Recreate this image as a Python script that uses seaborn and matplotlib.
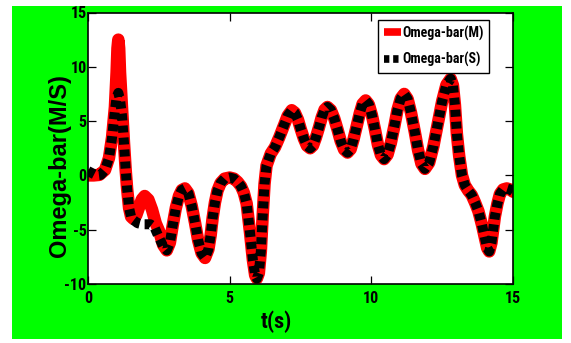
import os
import matplotlib
matplotlib.use("Agg")
import matplotlib.pyplot as plt
from matplotlib import font_manager
from matplotlib.font_manager import FontProperties
from matplotlib.patches import Rectangle
import seaborn as sns
import pandas as pd

# ---- data ----
# head of the M series (differs from S up to ~2.7 s)
t_head_m = [0, 0.2, 0.4, 0.6, 0.74, 0.85, 0.95, 1.01, 1.04, 1.07, 1.10, 1.13, 1.2, 1.27,
            1.33, 1.38, 1.45, 1.52, 1.6, 1.7, 1.8, 1.9, 2.0, 2.13, 2.26, 2.39, 2.52, 2.65]
v_head_m = [0, 0, 0.05, 0.5, 1.6, 3.5, 6.3, 9.5, 11.7, 12.5, 11.7, 9.5, 6.2, 3.0,
            0.5, -1.2, -3.0, -3.8, -4.0, -3.69, -2.95, -2.21, -1.9, -2.23, -3.15, -4.4, -5.2, -6.4]
# head of the S series
t_head_s = [0, 0.15, 0.3, 0.45, 0.6, 0.74, 0.85, 0.95, 1.01, 1.07, 1.13, 1.2, 1.27, 1.33,
            1.38, 1.45, 1.52, 1.6, 1.75, 1.9, 2.05, 2.2, 2.35, 2.5, 2.65]
v_head_s = [0.4, 0.2, 0.0, 0.05, 0.5, 1.6, 3.5, 6.0, 7.2, 7.6, 7.0, 5.5, 3.0, 0.5,
            -1.2, -3.0, -3.8, -4.1, -4.4, -4.5, -4.5, -4.5, -4.8, -5.7, -6.5]
# common part of both series
t_tail = [2.78, 2.89, 2.99, 3.10, 3.21, 3.31, 3.42, 3.54, 3.66, 3.78, 3.89, 4.01, 4.13,
          4.25, 4.33, 4.4, 4.48, 4.57, 4.68, 4.82, 5.0, 5.15, 5.28, 5.4, 5.5, 5.6, 5.72,
          5.82, 5.9, 5.96, 6.03, 6.1, 6.17, 6.23, 6.3, 6.45, 6.6, 6.75, 6.9, 7.05, 7.19,
          7.30, 7.41, 7.51, 7.62, 7.73, 7.84, 7.94, 8.04, 8.15, 8.25, 8.35, 8.45,
          8.57, 8.69, 8.81, 8.92, 9.04, 9.16, 9.27, 9.37, 9.48, 9.59, 9.69, 9.8,
          9.91, 10.02, 10.13, 10.23, 10.34, 10.45, 10.57, 10.69, 10.81, 10.92, 11.04, 11.16,
          11.28, 11.40, 11.53, 11.65, 11.77, 11.89, 12.04, 12.19, 12.345, 12.5, 12.65, 12.8,
          12.88, 12.95, 13.02, 13.1, 13.2, 13.3, 13.42, 13.54, 13.66, 13.78, 13.9, 14.01,
          14.09, 14.16, 14.24, 14.3, 14.36, 14.45, 14.54, 14.65, 14.78, 14.9, 15.0]
v_tail = [-6.9, -6.2, -4.6, -3.0, -1.9, -1.35, -1.2, -1.63, -2.8, -4.4, -6.0, -7.17, -7.6,
          -6.8, -5.5, -3.9, -2.5, -1.4, -0.7, -0.3, -0.2, -0.3, -0.6, -1.0, -1.6, -2.6, -5.3,
          -7.8, -9.2, -9.5, -9.0, -7.0, -3.5, -0.8, 0.9, 2.0, 2.6, 3.5, 4.5, 5.5, 6.0,
          5.77, 5.13, 4.25, 3.38, 2.73, 2.5, 2.75, 3.45, 4.4, 5.35, 6.05, 6.3,
          6.02, 5.25, 4.2, 3.15, 2.38, 2.1, 2.42, 3.3, 4.5, 5.7, 6.58, 6.9,
          6.54, 5.55, 4.2, 2.85, 1.86, 1.5, 1.9, 3.0, 4.5, 6.0, 7.1, 7.5,
          7.04, 5.78, 4.05, 2.33, 1.06, 0.6, 1.16, 2.68, 4.75, 6.83, 8.34, 8.9,
          8.3, 6.5, 3.8, 1.8, 0.0, -0.9, -1.4, -1.8, -2.5, -3.3, -4.5, -5.8,
          -6.7, -7.0, -6.2, -5.0, -3.8, -2.6, -1.7, -1.3, -1.2, -1.3, -1.5]

series_labels = ["Omega-bar(M)", "Omega-bar(S)"]
x_ticks = [0, 5, 10, 15]
y_ticks = [-10, -5, 0, 5, 10, 15]
x_label = "t(s)"
y_label = "Omega-bar(M/S)"

df_m = pd.DataFrame({"t": t_head_m + t_tail, "v": v_head_m + v_tail})
df_s = pd.DataFrame({"t": t_head_s + t_tail, "v": v_head_s + v_tail})


# ---- fonts: look for a narrow / condensed bold sans ----
def find_condensed(bold=True):
    best = None
    for f in font_manager.fontManager.ttflist:
        fn = os.path.basename(f.fname).lower()
        nm = f.name.lower()
        if "italic" in fn or "oblique" in fn or f.style != "normal":
            continue
        cond = ("narrow" in nm or "condensed" in nm or "narrow" in fn or "condensed" in fn
                or str(f.stretch) in ("condensed", "semi-condensed", "extra-condensed"))
        if not cond:
            continue
        w = f.weight if isinstance(f.weight, int) else (700 if "bold" in str(f.weight) else 400)
        isbold = w >= 600 or "bold" in fn
        if isbold != bold:
            continue
        if "semibold" in fn or "extrabold" in fn or "black" in fn or "light" in fn:
            continue
        score = 0
        if "liberation" in nm:
            score = 4
        elif "roboto" in nm:
            score = 3
        elif "dejavu" in nm and "sans" in nm and "mono" not in nm:
            score = 2
        elif "open" in nm or "noto" in nm:
            score = 1
        if best is None or score > best[0]:
            best = (score, f.fname)
    return best[1] if best else None


plt.rcParams["font.family"] = ["Liberation Sans", "DejaVu Sans"]
cond_bold = find_condensed(True)


def fp(size):
    if cond_bold:
        return FontProperties(fname=cond_bold, size=size)
    return FontProperties(family=["Liberation Sans", "DejaVu Sans"], weight="bold", size=size)


W, H = 571, 343
fig = plt.figure(figsize=(W / 100, H / 100), dpi=100, facecolor="white")
fig.patches.append(Rectangle((12 / W, 4 / H), 550 / W, 333 / H, transform=fig.transFigure,
                             facecolor="#00ff00", edgecolor="none", zorder=-10))
ax = fig.add_axes([88 / W, 59 / H, 425 / W, 271.5 / H])
ax.set_facecolor("white")

sns.lineplot(data=df_m, x="t", y="v", ax=ax, color="#ff0000", linewidth=9,
             sort=False, estimator=None, label=series_labels[0])
sns.lineplot(data=df_s, x="t", y="v", ax=ax, color="black", linewidth=7.2,
             linestyle=(0, (0.7, 0.5)), sort=False, estimator=None, label=series_labels[1])
for ln in ax.get_lines():
    ln.set_solid_capstyle("round")
    ln.set_solid_joinstyle("round")

ax.set_xlim(0, 15)
ax.set_ylim(-10, 15)
ax.set_xticks(x_ticks)
ax.set_yticks(y_ticks)
ax.set_xticklabels([str(v) for v in x_ticks])
ax.set_yticklabels([str(v) for v in y_ticks])
for lbl in ax.get_xticklabels() + ax.get_yticklabels():
    lbl.set_fontproperties(fp(11.5))
ax.tick_params(axis="both", direction="in", top=True, right=True, length=5.5, width=0.9,
               color="black")
ax.tick_params(axis="x", pad=5)
ax.tick_params(axis="y", pad=1)
for sp in ax.spines.values():
    sp.set_linewidth(1.2)
    sp.set_color("black")

ax.set_xlabel(x_label, fontproperties=fp(16))
ax.set_ylabel(y_label, fontsize=17, fontweight="bold")
ax.xaxis.label.set_va("center")
ax.yaxis.label.set_va("center")
ax.xaxis.set_label_coords((276 - 88) / 425, (284 - 321.7) / 271.5)
ax.yaxis.set_label_coords((60 - 88) / 425, (284 - 165.5) / 271.5)

leg = ax.legend(loc="upper right", bbox_to_anchor=(489 / W, 1 - 20 / H),
                bbox_transform=fig.transFigure, borderaxespad=0, fancybox=False,
                framealpha=1, edgecolor="black", prop=fp(10), handlelength=1.2,
                handletextpad=0.1, labelspacing=0.85, borderpad=0.4)
leg.get_frame().set_linewidth(1.0)
for ln in leg.get_lines():
    ln.set_linewidth(5.5)
    ln.set_solid_capstyle("butt")
    ln.set_dash_capstyle("butt")

fig.savefig("out.png", dpi=100, facecolor="white")
